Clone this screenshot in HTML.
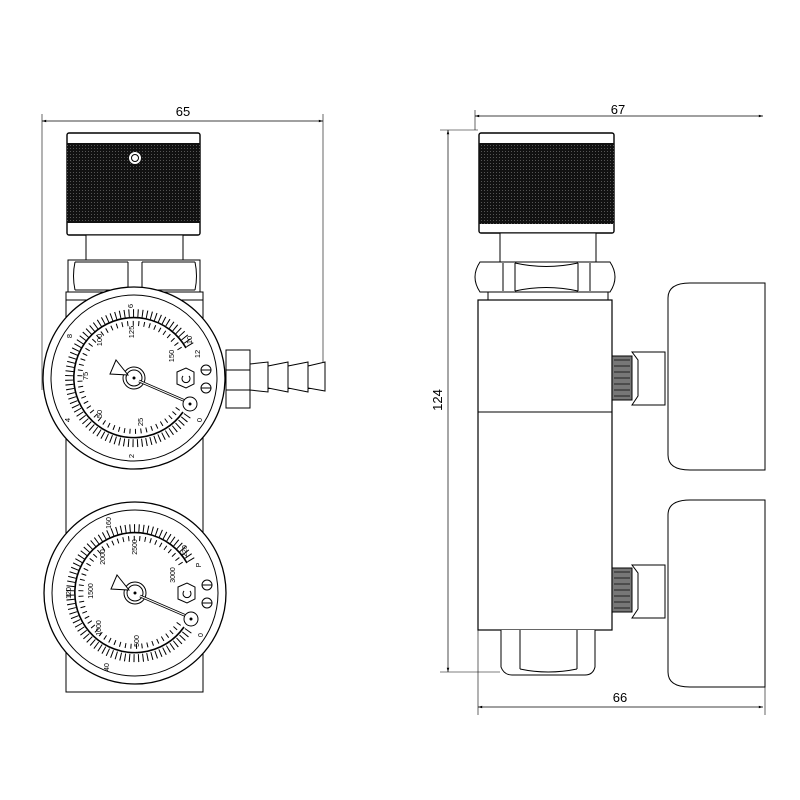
<!DOCTYPE html>
<html><head><style>body{margin:0;background:#fff}svg{display:block}text{font-family:"Liberation Sans",sans-serif}</style></head><body>
<svg width="800" height="800" viewBox="0 0 800 800" xmlns="http://www.w3.org/2000/svg">
<defs>
<pattern id="kn" width="3" height="3" patternUnits="userSpaceOnUse"><rect width="3" height="3" fill="#111"/><rect x="1" y="1" width="1" height="1" fill="#555"/></pattern>
<marker id="ar" viewBox="0 0 10 10" refX="10" refY="5" markerWidth="10" markerHeight="6" orient="auto-start-reverse"><path d="M0,2 L10,5 L0,8z" fill="#000"/></marker>
</defs>
<g fill="none" stroke="#000" stroke-width="1">
<line x1="42" y1="121" x2="323" y2="121" stroke-width="0.7" marker-start="url(#ar)" marker-end="url(#ar)"/>
<line x1="42" y1="114" x2="42" y2="390" stroke-width="0.6"/>
<line x1="323" y1="114" x2="323" y2="362" stroke-width="0.6"/>
<rect x="66" y="292" width="137" height="400" fill="#fff"/>
<rect x="67" y="133" width="133" height="102" rx="2" fill="#fff" stroke-width="1.4"/>
<rect x="67" y="143" width="133" height="80" fill="url(#kn)" stroke="none"/>
<circle cx="135" cy="158" r="5.5" fill="#fff" stroke="#fff" stroke-width="1"/>
<circle cx="135" cy="158" r="3.5" fill="#fff" stroke="#000"/>
<rect x="86" y="235" width="97" height="25" fill="#fff"/>
<rect x="68" y="260" width="132" height="32" fill="#fff"/>
<path d="M75,262 Q72,276 75,290 M128,262 V290 M142,262 V290 M195,262 Q198,276 195,290 M75,262 H128 M142,262 H195 M75,290 H128 M142,290 H195"/>
<rect x="66" y="292" width="137" height="8" fill="#fff"/>
<rect x="226" y="350" width="24" height="58" fill="#fff"/>
<line x1="226" y1="370" x2="250" y2="370"/><line x1="226" y1="390" x2="250" y2="390"/>
<path d="M250,364 L268,362 L268,392 L250,390 Z M268,366 L288,362 L288,392 L268,388 Z M288,366 L308,362 L308,392 L288,388 Z M308,366 L325,362 L325,391 L308,388 Z" fill="#fff"/>
<g transform="translate(134,378)">
<circle r="91" fill="#fff" stroke-width="1.3"/><circle r="83"/>
<path d="M49,34 A60,60 0 1 1 52,-30" stroke-width="1.6"/>
<path d="M53.4,37.4 A65,65 0 1 1 56.3,-32.5" stroke-width="8" stroke-dasharray="1 3.5"/>
<path d="M44,30.5 A54,54 0 1 1 47,-27" stroke-width="5" stroke-dasharray="1 4.5"/>
<circle r="11"/><circle r="8"/><circle r="1" fill="#000"/>
<path d="M-6,-3 L-18,-18 L-24,-4 Z" fill="#fff"/>
<line x1="5" y1="3" x2="56" y2="25" stroke-width="2.6"/><line x1="5" y1="3" x2="56" y2="25" stroke="#fff" stroke-width="1"/>
<circle cx="56" cy="26" r="7" fill="#fff"/><circle cx="56" cy="26" r="1" fill="#000"/>
<path d="M43,-6 L52,-10 L60,-6 L60,6 L52,10 L43,6 Z"/><path d="M49,-2 a4,4 0 1 0 6,0"/>
<circle cx="72" cy="-8" r="5"/><circle cx="72" cy="10" r="5"/>
<line x1="67" y1="-8" x2="77" y2="-8"/><line x1="67" y1="10" x2="77" y2="10"/>
<g fill="#000" stroke="none" font-size="7.5" text-anchor="middle">
<text x="0" y="-46" transform="rotate(-90 0 -46)">125</text>
<text x="-32" y="-38" transform="rotate(-90 -32 -38)">100</text>
<text x="-46" y="-2" transform="rotate(-90 -46 -2)">75</text>
<text x="-32" y="36" transform="rotate(-90 -32 36)">50</text>
<text x="9" y="44" transform="rotate(-90 9 44)">25</text>
<text x="40" y="-22" transform="rotate(-90 40 -22)">150</text>
<text x="-1" y="-72" transform="rotate(-90 -1 -72)">6</text>
<text x="-62" y="-42" transform="rotate(-90 -62 -42)">8</text>
<text x="-64" y="42" transform="rotate(-90 -64 42)">4</text>
<text x="0" y="78" transform="rotate(-90 0 78)">2</text>
<text x="58" y="-38" transform="rotate(-90 58 -38)">10</text>
<text x="66" y="-24" transform="rotate(-90 66 -24)">12</text>
<text x="68" y="42" transform="rotate(-90 68 42)">0</text>
</g>
</g>
<g transform="translate(135,593)">
<circle r="91" fill="#fff" stroke-width="1.3"/><circle r="83"/>
<path d="M49,34 A60,60 0 1 1 52,-30" stroke-width="1.6"/>
<path d="M53.4,37.4 A65,65 0 1 1 56.3,-32.5" stroke-width="8" stroke-dasharray="1 3.5"/>
<path d="M44,30.5 A54,54 0 1 1 47,-27" stroke-width="5" stroke-dasharray="1 4.5"/>
<circle r="11"/><circle r="8"/><circle r="1" fill="#000"/>
<path d="M-6,-3 L-18,-18 L-24,-4 Z" fill="#fff"/>
<line x1="5" y1="3" x2="56" y2="25" stroke-width="2.6"/><line x1="5" y1="3" x2="56" y2="25" stroke="#fff" stroke-width="1"/>
<circle cx="56" cy="26" r="7" fill="#fff"/><circle cx="56" cy="26" r="1" fill="#000"/>
<path d="M43,-6 L52,-10 L60,-6 L60,6 L52,10 L43,6 Z"/><path d="M49,-2 a4,4 0 1 0 6,0"/>
<circle cx="72" cy="-8" r="5"/><circle cx="72" cy="10" r="5"/>
<line x1="67" y1="-8" x2="77" y2="-8"/><line x1="67" y1="10" x2="77" y2="10"/>
<g fill="#000" stroke="none" font-size="7" text-anchor="middle">
<text x="2" y="-46" transform="rotate(-90 2 -46)">2500</text>
<text x="-30" y="-36" transform="rotate(-90 -30 -36)">2000</text>
<text x="-42" y="-2" transform="rotate(-90 -42 -2)">1500</text>
<text x="-34" y="35" transform="rotate(-90 -34 35)">1000</text>
<text x="4" y="48" transform="rotate(-90 4 48)">500</text>
<text x="40" y="-18" transform="rotate(-90 40 -18)">3000</text>
<text x="-24" y="-70" transform="rotate(-90 -24 -70)">160</text>
<text x="-64" y="0" transform="rotate(-90 -64 0)">120</text>
<text x="-26" y="74" transform="rotate(-90 -26 74)">40</text>
<text x="52" y="-42" transform="rotate(-90 52 -42)">220</text>
<text x="66" y="-28" transform="rotate(-90 66 -28)">P</text>
<text x="68" y="42" transform="rotate(-90 68 42)">0</text>
</g>
</g>

<line x1="475" y1="116" x2="763" y2="116" stroke-width="0.7" marker-start="url(#ar)" marker-end="url(#ar)"/>
<line x1="475" y1="110" x2="475" y2="130" stroke-width="0.6"/>
<line x1="448" y1="130" x2="448" y2="672" stroke-width="0.7" marker-start="url(#ar)" marker-end="url(#ar)"/>
<line x1="440" y1="130" x2="478" y2="130" stroke-width="0.6"/>
<line x1="440" y1="672" x2="500" y2="672" stroke-width="0.6"/>
<line x1="478" y1="707" x2="763" y2="707" stroke-width="0.7" marker-start="url(#ar)" marker-end="url(#ar)"/>
<line x1="478" y1="630" x2="478" y2="715" stroke-width="0.6"/>
<line x1="765" y1="687" x2="765" y2="715" stroke-width="0.6"/>
<rect x="479" y="133" width="135" height="100" rx="2" fill="#fff" stroke-width="1.4"/>
<rect x="479" y="143" width="135" height="81" fill="url(#kn)" stroke="none"/>
<rect x="500" y="233" width="96" height="29" fill="#fff"/>
<path d="M480,262 H610 Q620,277 610,292 H480 Q470,277 480,262 Z" fill="#fff"/>
<path d="M503,263 V291 M515,263 V291 M578,263 V291 M590,263 V291 M515,263 Q546,270 578,263 M515,291 Q546,284 578,291"/>
<rect x="488" y="292" width="120" height="8" fill="#fff"/>
<rect x="478" y="300" width="134" height="330" fill="#fff" stroke-width="1.2"/>
<line x1="478" y1="412" x2="612" y2="412"/>
<path d="M501,630 V667 Q504,675 512,675 H585 Q593,675 595,667 V630" fill="#fff"/>
<path d="M520,630 V669 M577,630 V669 M520,669 Q548,675 577,669"/>
<rect x="612" y="356" width="20" height="44" fill="#777" stroke-width="1"/>
<path d="M614,360 H630 M614,366 H630 M614,372 H630 M614,378 H630 M614,384 H630 M614,390 H630 M614,396 H630" stroke="#222"/>
<path d="M632,352 L665,352 L665,405 L632,405 L638,396 V360 Z" fill="#fff"/>
<path d="M690,470 Q668,470 668,455 V298 Q668,283 690,283 H765 V470 Z" fill="#fff"/>
<rect x="612" y="568" width="20" height="44" fill="#777" stroke-width="1"/>
<path d="M614,572 H630 M614,578 H630 M614,584 H630 M614,590 H630 M614,596 H630 M614,602 H630 M614,608 H630" stroke="#222"/>
<path d="M632,565 L665,565 L665,618 L632,618 L638,609 V573 Z" fill="#fff"/>
<path d="M690,687 Q668,687 668,672 V515 Q668,500 690,500 H765 V687 Z" fill="#fff"/>
</g>
<g font-size="13" fill="#000" text-anchor="middle">
<text x="183" y="116">65</text>
<text x="618" y="114">67</text>
<text x="620" y="702">66</text>
<text x="442" y="400" transform="rotate(-90 442 400)">124</text>
</g>
</svg>
</body></html>
